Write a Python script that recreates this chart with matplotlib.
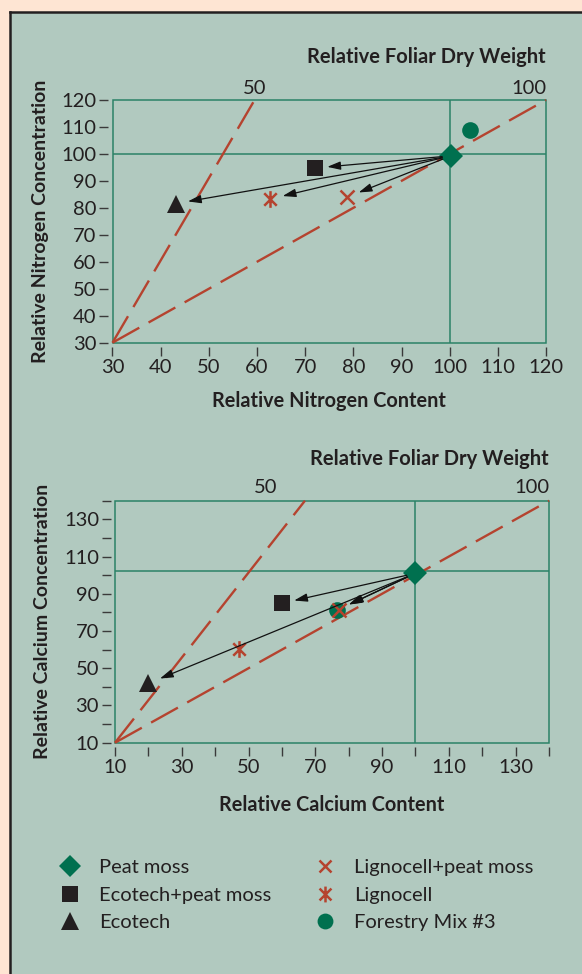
import matplotlib
matplotlib.use("Agg")
import matplotlib.pyplot as plt
from matplotlib.patches import Rectangle
from matplotlib.lines import Line2D
from matplotlib.path import Path
import matplotlib.transforms as mtransforms

plt.rcParams['font.family'] = ['Lato', 'DejaVu Sans']

# ---------------- data ----------------
series_names = ["Peat moss", "Ecotech+peat moss", "Ecotech",
                "Lignocell+peat moss", "Lignocell", "Forestry Mix #3"]

# Nitrogen panel: (relative content, relative concentration)
n_content = [100.3, 72.0, 43.1, 78.7, 62.8, 104.2]
n_conc = [99.3, 94.8, 81.6, 84.0, 83.3, 108.9]
n_arrow_targets = [1, 2, 4, 3]          # indices of series receiving an arrow
n_ref = (100, 100)
n_iso50 = ([30, 59.5], [30, 120])
n_iso100 = ([30, 120], [30, 120])
n_xticks = list(range(30, 121, 10))
n_yticks = list(range(30, 121, 10))
n_iso_labels = [("50", 59.6), ("100", 120)]

# Calcium panel
c_content = [100.0, 60.0, 20.0, 77.0, 47.2, 76.6]
c_conc = [101.0, 84.9, 41.9, 81.5, 60.3, 81.3]
c_arrow_targets = [1, 2, 3, 5]
c_ref = (100, 102)
c_iso50 = ([10, 66.9], [10, 140])
c_iso100 = ([10, 140], [10, 140])
c_xticks = list(range(10, 141, 10))
c_yticks = list(range(10, 141, 10))
c_iso_labels = [("50", 55.2), ("100", 140)]

# ---------------- styles ----------------
PEACH = "#FEE5D3"
PANEL = "#B1C9BF"
DARK = "#231F20"
GREEN = "#00704F"
FRAME = "#2B8267"
RED = "#B5432F"

star_path = Path([(0, -1), (0, 1), (-0.75, -0.75), (0.75, 0.75),
                  (-0.75, 0.75), (0.75, -0.75)],
                 [Path.MOVETO, Path.LINETO, Path.MOVETO, Path.LINETO,
                  Path.MOVETO, Path.LINETO])

styles = [
    dict(marker="D", color=GREEN, ms=12, mfc=GREEN, mec=GREEN, mew=0, zorder=6),
    dict(marker="s", color=DARK, ms=12, mfc=DARK, mec=DARK, mew=0, zorder=5),
    dict(marker="^", color=DARK, ms=13, mfc=DARK, mec=DARK, mew=0, zorder=5),
    dict(marker="x", color=RED, ms=9.5, mfc=RED, mec=RED, mew=1.8, zorder=7),
    dict(marker=star_path, color=RED, ms=12, mfc="none", mec=RED, mew=1.8, zorder=7),
    dict(marker="o", color=GREEN, ms=12, mfc=GREEN, mec=GREEN, mew=0, zorder=4),
]

W, H = 582, 974
fig = plt.figure(figsize=(W / 100, H / 100), dpi=100)
fig.patch.set_facecolor(PEACH)

# panel background with left and top border
fig.patches.append(Rectangle((10 / W, 0), 1, 1 - 12 / H, transform=fig.transFigure,
                             facecolor=PANEL, edgecolor="none", zorder=-10))
fig.lines.append(Line2D([10 / W, 10 / W], [0, 1 - 12 / H], transform=fig.transFigure,
                        color=DARK, lw=1.8, zorder=-9))
fig.lines.append(Line2D([10 / W, 1], [1 - 12 / H, 1 - 12 / H], transform=fig.transFigure,
                        color=DARK, lw=1.8, zorder=-9))


def make_panel(rect, content, conc, targets, ref, iso50, iso100, xticks, yticks,
               xlim, ylim, iso_labels, xlabel, ylabel, labeled_x, labeled_y,
               title_off, isolab_off, xlabelpad):
    ax = fig.add_axes(rect)
    ax.set_facecolor("none")
    ax.set_xlim(*xlim)
    ax.set_ylim(*ylim)
    for s in ["top", "right"]:
        ax.spines[s].set_visible(False)
    for s in ["bottom", "left"]:
        ax.spines[s].set_position(("outward", 3))
        ax.spines[s].set_visible(False)
    ax.add_patch(Rectangle((0, 0), 1, 1, transform=ax.transAxes, fill=False,
                           edgecolor=FRAME, lw=1.1, clip_on=False, zorder=2))
    ax.axvline(ref[0], color=FRAME, lw=1.1, zorder=2)
    ax.axhline(ref[1], color=FRAME, lw=1.1, zorder=2)

    ax.set_xticks([t for t in xticks if t in labeled_x])
    ax.set_xticks([t for t in xticks if t not in labeled_x], minor=True)
    ax.set_yticks([t for t in yticks if t in labeled_y])
    ax.set_yticks([t for t in yticks if t not in labeled_y], minor=True)
    ax.tick_params(which="both", direction="out", length=6.5, width=1.0,
                   color="#3a3a3a", labelsize=14.5, labelcolor=DARK, pad=2)

    # isolines
    for iso in (iso50, iso100):
        ax.plot(iso[0], iso[1], color=RED, lw=1.7, dashes=(13, 4.5),
                solid_capstyle="butt", dash_capstyle="butt", zorder=3,
                clip_on=False)

    # arrows from peat moss to treatments
    for i in targets:
        ax.annotate("", xy=(content[i], conc[i]), xytext=(content[0], conc[0]),
                    arrowprops=dict(arrowstyle="-|>,head_length=0.8,head_width=0.25",
                                    color="#111111", lw=0.9, shrinkA=6.5, shrinkB=9,
                                    mutation_scale=10),
                    zorder=8)

    for i, st in enumerate(styles):
        ax.plot([content[i]], [conc[i]], linestyle="none", marker=st["marker"],
                ms=st["ms"], mfc=st["mfc"], mec=st["mec"], mew=st["mew"],
                zorder=st["zorder"], clip_on=False)

    ax.set_xlabel(xlabel, fontsize=14.3, fontweight="bold", color=DARK, labelpad=xlabelpad)
    ax.set_ylabel(ylabel, fontsize=14, fontweight="bold", color=DARK, labelpad=9)

    ax.annotate("Relative Foliar Dry Weight", xy=(1, 1), xycoords="axes fraction",
                xytext=(0, title_off), textcoords="offset points",
                ha="right", va="center", fontsize=14.5, fontweight="bold", color=DARK)
    trans = mtransforms.blended_transform_factory(ax.transData, ax.transAxes)
    for lab, xpos in iso_labels:
        ha = "right" if lab == "100" else "center"
        ax.annotate(lab, xy=(xpos, 1), xycoords=trans, xytext=(0, isolab_off),
                    textcoords="offset points", ha=ha, va="center",
                    fontsize=14.5, color=DARK)
    return ax


make_panel([112.5 / W, 1 - 342.7 / H, (546 - 112.5) / W, 242.7 / H],
           n_content, n_conc, n_arrow_targets, n_ref, n_iso50, n_iso100,
           n_xticks, n_yticks, (30, 120), (30, 120), n_iso_labels,
           "Relative Nitrogen Content", "Relative Nitrogen Concentration",
           n_xticks, n_yticks, 31, 8, 11)

make_panel([115 / W, 1 - 742.7 / H, (549 - 115) / W, 242 / H],
           c_content, c_conc, c_arrow_targets, c_ref, c_iso50, c_iso100,
           c_xticks, c_yticks, (10, 140), (10, 140), c_iso_labels,
           "Relative Calcium Content", "Relative Calcium Concentration",
           list(range(10, 131, 20)), list(range(10, 131, 20)), 30, 9.5, 14)

# legend
handles = []
for st in styles:
    handles.append(Line2D([], [], linestyle="none", marker=st["marker"], ms=st["ms"] * 0.95,
                          mfc=st["mfc"], mec=st["mec"], mew=st["mew"]))
leg = fig.legend(handles, series_names, ncol=2, loc="upper left",
                 bbox_to_anchor=(60 / W, 1 - 859 / H), frameon=False,
                 fontsize=14.5, handlelength=1.0, handletextpad=0.95,
                 columnspacing=2.15, labelspacing=0.52, borderpad=0,
                 borderaxespad=0)
for t in leg.get_texts():
    t.set_color(DARK)

fig.savefig("out.png", dpi=100, facecolor=PEACH)
